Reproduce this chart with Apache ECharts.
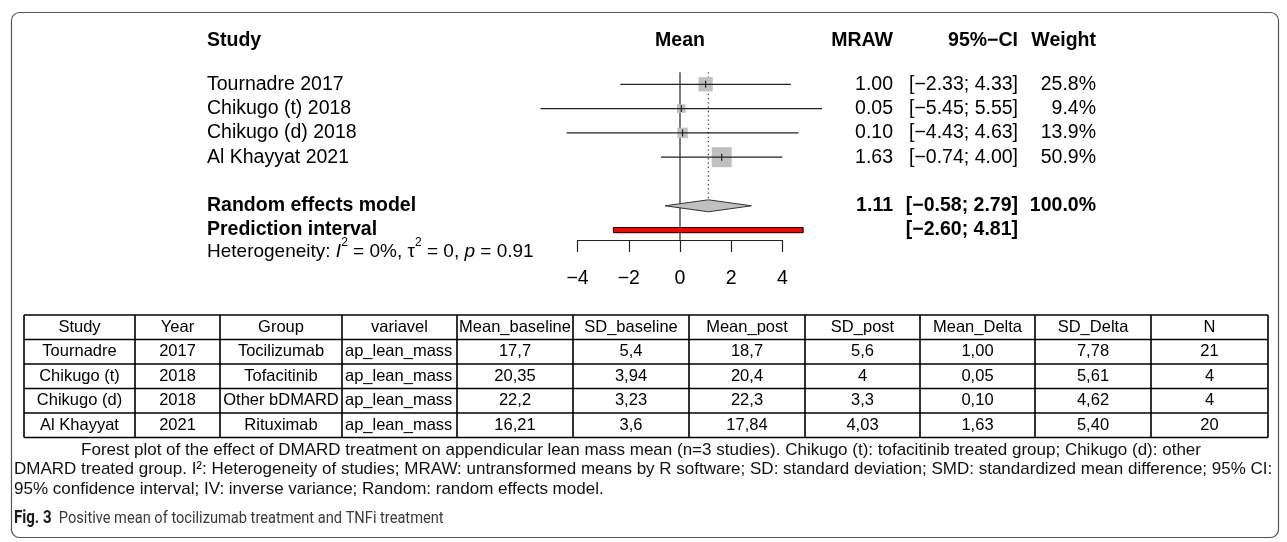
<!DOCTYPE html>
<html><head><meta charset="utf-8">
<script src="https://cdn.jsdelivr.net/npm/echarts@6/dist/echarts.min.js"></script>
<style>html,body{margin:0;padding:0;background:#fff;}#c{width:1287px;height:542px;}</style>
</head><body><div id="c"></div>
<script>
// ---------- forest plot data ----------
const studyLabels = ['Tournadre 2017', 'Chikugo (t) 2018', 'Chikugo (d) 2018', 'Al Khayyat 2021'];
const meanRaw = [1.00, 0.05, 0.10, 1.63];
const ciLower = [-2.33, -5.45, -4.43, -0.74];
const ciUpper = [4.33, 5.55, 4.63, 4.00];
const weights = [25.8, 9.4, 13.9, 50.9];
const pooledLabel = 'Random effects model';
const pooledMean = 1.11, pooledLower = -0.58, pooledUpper = 2.79, pooledWeight = 100.0;
const predLabel = 'Prediction interval';
const predLower = -2.60, predUpper = 4.81;
const xTicks = [-4, -2, 0, 2, 4];
const hetI2 = '0%', hetTau2 = '0', hetP = '0.91';
const forestHeaders = ['Study', 'Mean', 'MRAW', '95%\u2212CI', 'Weight'];

// ---------- table data ----------
const tblHeader = ['Study', 'Year', 'Group', 'variavel', 'Mean_baseline', 'SD_baseline', 'Mean_post', 'SD_post', 'Mean_Delta', 'SD_Delta', 'N'];
const tblStudy = ['Tournadre', 'Chikugo (t)', 'Chikugo (d)', 'Al Khayyat'];
const tblYear = ['2017', '2018', '2018', '2021'];
const tblGroup = ['Tocilizumab', 'Tofacitinib', 'Other bDMARD', 'Rituximab'];
const tblVariavel = ['ap_lean_mass', 'ap_lean_mass', 'ap_lean_mass', 'ap_lean_mass'];
const tblMeanBaseline = ['17,7', '20,35', '22,2', '16,21'];
const tblSdBaseline = ['5,4', '3,94', '3,23', '3,6'];
const tblMeanPost = ['18,7', '20,4', '22,3', '17,84'];
const tblSdPost = ['5,6', '4', '3,3', '4,03'];
const tblMeanDelta = ['1,00', '0,05', '0,10', '1,63'];
const tblSdDelta = ['7,78', '5,61', '4,62', '5,40'];
const tblN = ['21', '4', '4', '20'];

// ---------- captions ----------
const caption1 = 'Forest plot of the effect of DMARD treatment on appendicular lean mass mean (n=3 studies). Chikugo (t): tofacitinib treated group; Chikugo (d): other';
const caption2 = 'DMARD treated group. I\u00b2: Heterogeneity of studies; MRAW: untransformed means by R software; SD: standard deviation; SMD: standardized mean difference; 95% CI:';
const caption3 = '95% confidence interval; IV: inverse variance; Random: random effects model.';
const figLabel = 'Fig. 3';
const figTitle = 'Positive mean of tocilizumab treatment and TNFi treatment';

// ---------- layout ----------
const FF = "'Liberation Sans', Arial, Helvetica, sans-serif";
const FS = 19.5;
const GRID_TOP = 60, GRID_H = 180, ROW_PX = 24.3;
const Y_MAX = GRID_H / ROW_PX;
const X0_PX = 577.6, X1_PX = 782.4;
const COL_NAME = 207, COL_MRAW = 893, COL_CI = 1018, COL_W = 1096;
const HEAD_ROW = -0.78, POOL_ROW = 6, PRED_ROW = 7, HET_ROW = 7.9, LINE_TOP_ROW = 0.5;
const SQ_MAX = 20, DIAMOND_HALF = 6, PRED_HALF = 2.6;

const fmt = v => v.toFixed(2).replace('-', '\u2212');
const ci = (a, b) => '[' + fmt(a) + '; ' + fmt(b) + ']';

// text specs for forest plot
const texts = [];
texts.push({row: HEAD_ROW, x: COL_NAME, align: 'left', text: forestHeaders[0], bold: true});
texts.push({row: HEAD_ROW, xv: 0, align: 'center', text: forestHeaders[1], bold: true});
texts.push({row: HEAD_ROW, x: COL_MRAW, align: 'right', text: forestHeaders[2], bold: true});
texts.push({row: HEAD_ROW, x: COL_CI, align: 'right', text: forestHeaders[3], bold: true});
texts.push({row: HEAD_ROW, x: COL_W, align: 'right', text: forestHeaders[4], bold: true});
studyLabels.forEach((s, i) => {
  texts.push({row: i + 1, x: COL_NAME, align: 'left', text: s});
  texts.push({row: i + 1, x: COL_MRAW, align: 'right', text: fmt(meanRaw[i])});
  texts.push({row: i + 1, x: COL_CI, align: 'right', text: ci(ciLower[i], ciUpper[i])});
  texts.push({row: i + 1, x: COL_W, align: 'right', text: weights[i].toFixed(1) + '%'});
});
texts.push({row: POOL_ROW, x: COL_NAME, align: 'left', text: pooledLabel, bold: true});
texts.push({row: POOL_ROW, x: COL_MRAW, align: 'right', text: fmt(pooledMean), bold: true});
texts.push({row: POOL_ROW, x: COL_CI, align: 'right', text: ci(pooledLower, pooledUpper), bold: true});
texts.push({row: POOL_ROW, x: COL_W, align: 'right', text: pooledWeight.toFixed(1) + '%', bold: true});
texts.push({row: PRED_ROW, x: COL_NAME, align: 'left', text: predLabel, bold: true});
texts.push({row: PRED_ROW, x: COL_CI, align: 'right', text: ci(predLower, predUpper), bold: true});
texts.push({row: HET_ROW, x: COL_NAME, align: 'left',
  text: 'Heterogeneity: {i|I}{s|2} = ' + hetI2 + ', \u03c4{s|2} = ' + hetTau2 + ', {i|p} = ' + hetP, rich: true});

const chart = echarts.init(document.getElementById('c'), null, {renderer: 'canvas'});

// table graphics
const colX = [24, 135, 220, 342, 457, 573, 689, 805, 920, 1035, 1151, 1268];
const TBL_TOP = 315, TBL_BOTTOM = 437.5;
const rowY = [0, 1, 2, 3, 4, 5].map(k => TBL_TOP + k * (TBL_BOTTOM - TBL_TOP) / 5);
const TFS = 16.5;
const graphics = [];
const tblCols = [tblStudy, tblYear, tblGroup, tblVariavel, tblMeanBaseline, tblSdBaseline, tblMeanPost, tblSdPost, tblMeanDelta, tblSdDelta, tblN];
rowY.forEach(y => graphics.push({type: 'line', shape: {x1: colX[0], y1: y, x2: colX[colX.length - 1], y2: y}, style: {stroke: '#000', lineWidth: 1.6}}));
colX.forEach(x => graphics.push({type: 'line', shape: {x1: x, y1: rowY[0], x2: x, y2: rowY[rowY.length - 1]}, style: {stroke: '#000', lineWidth: 1.6}}));
tblHeader.forEach((h, c) => {
  graphics.push({type: 'text', style: {text: h, x: (colX[c] + colX[c + 1]) / 2, y: (rowY[0] + rowY[1]) / 2, align: 'center', verticalAlign: 'middle', fontSize: TFS, fontFamily: FF, fill: '#000'}});
});
tblCols.forEach((col, c) => {
  col.forEach((v, r) => {
    const left = c === 3;
    graphics.push({type: 'text', style: {text: v, x: left ? colX[c] + 3 : (colX[c] + colX[c + 1]) / 2, y: (rowY[r + 1] + rowY[r + 2]) / 2, align: left ? 'left' : 'center', verticalAlign: 'middle', fontSize: TFS, fontFamily: FF, fill: '#000'}});
  });
});
// captions
const CFS = 17;
graphics.push({type: 'text', style: {text: caption1, x: 641, y: 450, align: 'center', verticalAlign: 'middle', fontSize: CFS, fontFamily: FF, fill: '#111'}});
graphics.push({type: 'text', style: {text: caption2, x: 14, y: 469.5, align: 'left', verticalAlign: 'middle', fontSize: CFS, fontFamily: FF, fill: '#111'}});
graphics.push({type: 'text', style: {text: caption3, x: 14, y: 489, align: 'left', verticalAlign: 'middle', fontSize: CFS, fontFamily: FF, fill: '#111'}});
graphics.push({type: 'text', x: 14, y: 519, scaleX: 0.86, scaleY: 1,
  style: {text: '{b|' + figLabel + '}  ' + figTitle, x: 0, y: 0, align: 'left', verticalAlign: 'middle', fontSize: 17, fontFamily: 'Roboto, sans-serif', fill: '#3a3a3a',
  rich: {b: {fontWeight: 'bold', fontSize: 17.5, fontFamily: 'Roboto, sans-serif', fill: '#1a1a1a'}}}});
// outer frame
graphics.push({type: 'rect', shape: {x: 11.5, y: 12.5, width: 1267, height: 525, r: 8}, style: {fill: 'none', stroke: '#555', lineWidth: 1.2}});

const option = {
  animation: false,
  backgroundColor: '#fff',
  grid: {left: X0_PX, right: 1287 - X1_PX, top: GRID_TOP, height: GRID_H},
  xAxis: {
    type: 'value', min: xTicks[0], max: xTicks[xTicks.length - 1], interval: xTicks[1] - xTicks[0],
    axisLine: {show: true, onZero: false, lineStyle: {color: '#222', width: 1.2}},
    axisTick: {show: true, length: 12, lineStyle: {color: '#222', width: 1.2}},
    axisLabel: {margin: 29, fontSize: FS, fontFamily: FF, color: '#000', formatter: v => String(v).replace('-', '\u2212')},
    splitLine: {show: false}
  },
  yAxis: {type: 'value', min: 0, max: Y_MAX, inverse: true, show: false},
  graphic: graphics,
  series: [
    { // reference lines
      type: 'custom', clip: false, z: 1,
      data: [[0, LINE_TOP_ROW, Y_MAX, 0], [pooledMean, LINE_TOP_ROW, POOL_ROW, 1]],
      encode: {x: 0, y: [1, 2]},
      renderItem(params, api) {
        const x = api.value(0), dotted = api.value(3) === 1;
        const p1 = api.coord([x, api.value(1)]), p2 = api.coord([x, api.value(2)]);
        const y2 = dotted ? p2[1] - DIAMOND_HALF : p2[1];
        return {type: 'line', shape: {x1: p1[0], y1: p1[1], x2: p2[0], y2: y2},
          style: {stroke: dotted ? '#444' : '#222', lineWidth: dotted ? 1.3 : 1.2, lineDash: dotted ? [1.3, 3] : null}};
      }
    },
    { // studies
      type: 'custom', clip: false, z: 3,
      data: meanRaw.map((m, i) => [m, ciLower[i], ciUpper[i], i + 1, weights[i]]),
      encode: {x: [0, 1, 2], y: 3},
      renderItem(params, api) {
        const m = api.value(0), lo = api.value(1), hi = api.value(2), r = api.value(3), w = api.value(4);
        const pm = api.coord([m, r]), pl = api.coord([lo, r]), ph = api.coord([hi, r]);
        const s = SQ_MAX * Math.sqrt(w / Math.max(...weights));
        return {type: 'group', children: [
          {type: 'rect', shape: {x: pm[0] - s / 2, y: pm[1] - s / 2, width: s, height: s}, style: {fill: '#c0c0c0'}},
          {type: 'line', shape: {x1: pl[0], y1: pl[1], x2: ph[0], y2: ph[1]}, style: {stroke: '#222', lineWidth: 1.2}},
          {type: 'line', shape: {x1: pm[0], y1: pm[1] - 3.5, x2: pm[0], y2: pm[1] + 3.5}, style: {stroke: '#222', lineWidth: 1.2}}
        ]};
      }
    },
    { // pooled diamond
      type: 'custom', clip: false, z: 3,
      data: [[pooledMean, pooledLower, pooledUpper, POOL_ROW]],
      encode: {x: [0, 1, 2], y: 3},
      renderItem(params, api) {
        const r = api.value(3);
        const pm = api.coord([api.value(0), r]), pl = api.coord([api.value(1), r]), ph = api.coord([api.value(2), r]);
        return {type: 'polygon', shape: {points: [[pl[0], pl[1]], [pm[0], pm[1] - DIAMOND_HALF], [ph[0], ph[1]], [pm[0], pm[1] + DIAMOND_HALF]]},
          style: {fill: '#c0c0c0', stroke: '#333', lineWidth: 1}};
      }
    },
    { // prediction interval
      type: 'custom', clip: false, z: 3,
      data: [[predLower, predUpper, PRED_ROW]],
      encode: {x: [0, 1], y: 2},
      renderItem(params, api) {
        const r = api.value(2);
        const pl = api.coord([api.value(0), r]), ph = api.coord([api.value(1), r]);
        return {type: 'rect', shape: {x: pl[0], y: pl[1] - PRED_HALF, width: ph[0] - pl[0], height: PRED_HALF * 2},
          style: {fill: '#ff0000', stroke: '#000', lineWidth: 1}};
      }
    },
    { // text columns
      type: 'custom', clip: false, z: 4,
      data: texts.map(t => [t.xv !== undefined ? t.xv : 0, t.row]),
      encode: {x: 0, y: 1},
      renderItem(params, api) {
        const t = texts[params.dataIndex];
        const p = api.coord([api.value(0), api.value(1)]);
        const x = t.xv !== undefined ? p[0] : t.x;
        const style = {text: t.text, x: x, y: p[1], align: t.align, verticalAlign: 'middle', fill: '#000',
          fontSize: FS, fontFamily: FF, fontWeight: t.bold ? 'bold' : 'normal'};
        if (t.rich) {
          style.fontSize = 19;
          style.lineHeight = 30;
          style.rich = {
            i: {fontStyle: 'italic', fontSize: 19, fontFamily: FF, lineHeight: 30, fill: '#000'},
            s: {fontSize: 12, fontFamily: FF, lineHeight: 12, verticalAlign: 'top', fill: '#000'}
          };
        }
        return {type: 'text', style: style};
      }
    }
  ]
};
chart.setOption(option);
</script>
</body></html>
